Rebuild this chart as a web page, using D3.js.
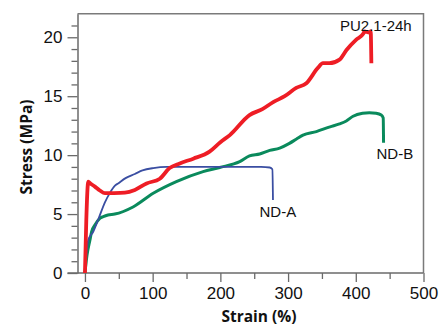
<!DOCTYPE html>
<html>
<head>
<meta charset="utf-8">
<script src="https://cdn.jsdelivr.net/npm/d3@7"></script>
<style>
  html, body { margin: 0; padding: 0; background: #fff; }
  svg { display: block; }
</style>
</head>
<body>
<svg id="chart" width="440" height="327"></svg>
<script>
// ---- data (strain %, stress MPa) ----
const redStrain   = [0, 2, 4.9, 8, 14.7, 22, 29.5, 40, 59, 73.7, 91, 110.6, 125, 140, 160, 184, 200, 214, 243, 262, 278, 295, 312, 327, 344, 351.5, 361, 376, 386, 400.7, 411, 413, 420, 422, 423];
const redStress   = [0, 4.5, 7.75, 7.6, 7.33, 7.0, 6.77, 6.78, 6.82, 7.05, 7.6, 8.0, 8.9, 9.3, 9.7, 10.3, 11.1, 11.7, 13.4, 13.9, 14.5, 15.0, 15.7, 16.1, 17.4, 17.8, 17.8, 18.1, 18.9, 19.8, 20.3, 20.5, 20.4, 20.5, 17.8];

const blueStrain  = [0, 4.9, 12.2, 20, 29.5, 36.9, 44, 49, 60, 73.7, 85, 100.8, 121, 150, 194, 230, 260, 273, 276.8, 277.7];
const blueStress  = [0, 2.8, 3.5, 4.6, 6.0, 6.8, 7.4, 7.6, 8.05, 8.4, 8.7, 8.9, 9.0, 9.0, 9.0, 9.0, 9.0, 8.95, 8.8, 6.2];

const greenStrain = [0, 3, 7.4, 9.8, 14.7, 22, 27, 34, 44, 71, 100.8, 135, 174.5, 199, 228.6, 243, 258, 272.9, 287.6, 302, 312, 322, 341.8, 362, 376, 386, 396, 410, 420, 430, 437.6, 440.5, 441];
const greenStress = [0, 1.5, 2.8, 3.5, 4.07, 4.64, 4.78, 4.92, 5.0, 5.6, 6.76, 7.75, 8.6, 8.95, 9.45, 9.93, 10.1, 10.4, 10.6, 11.0, 11.35, 11.7, 12.0, 12.4, 12.65, 12.9, 13.3, 13.55, 13.6, 13.55, 13.4, 13.15, 11.06];

const xTickValues = [0, 100, 200, 300, 400, 500];
const xMinorTicks = [50, 150, 250, 350, 450];
const yTickValues = [0, 5, 10, 15, 20];
const yMinorTicks = [1, 2, 3, 4, 6, 7, 8, 9, 11, 12, 13, 14, 16, 17, 18, 19, 21];

const seriesNames  = ["PU2.1-24h", "ND-A", "ND-B"];
const xAxisTitle = "Strain (%)";
const yAxisTitle = "Stress (MPa)";

// ---- layout ----
const svg = d3.select("#chart");
const x = d3.scaleLinear().domain([-11, 500]).range([77.5, 423.5]);
const y = d3.scaleLinear().domain([0, 22]).range([273, 13.7]);
const axisColor = "#6a6a6a";

// frame (top, right)
svg.append("path")
  .attr("d", `M${x.range()[0]},${y(22)} H${x(500)} V${y(0)}`)
  .attr("fill", "none").attr("stroke", "#7a7a7a").attr("stroke-width", 1.5);

// x axis
const gx = svg.append("g").attr("transform", `translate(0,${y(0)})`)
  .call(d3.axisBottom(x).tickValues(xTickValues).tickSize(9).tickSizeOuter(0).tickPadding(4));
const gxm = svg.append("g").attr("transform", `translate(0,${y(0)})`)
  .call(d3.axisBottom(x).tickValues(xMinorTicks).tickSize(6).tickSizeOuter(0).tickFormat(""));
gxm.select(".domain").remove();

// y axis
const gy = svg.append("g").attr("transform", `translate(${x.range()[0]},0)`)
  .call(d3.axisLeft(y).tickValues(yTickValues).tickSize(10).tickSizeOuter(0).tickPadding(5));
const gym = svg.append("g").attr("transform", `translate(${x.range()[0]},0)`)
  .call(d3.axisLeft(y).tickValues(yMinorTicks).tickSize(6).tickSizeOuter(0).tickFormat(""));
gym.select(".domain").remove();

[gx, gxm, gy, gym].forEach(g => {
  g.selectAll(".domain").attr("stroke", axisColor).attr("stroke-width", 1.5);
  g.selectAll(".tick line").attr("stroke", axisColor).attr("stroke-width", 1.3);
  g.selectAll(".tick text")
    .attr("fill", "#111")
    .style("font-family", "'Liberation Sans', Arial, sans-serif")
    .style("font-size", "17px");
});
// extend x-axis domain to meet the y-axis major tick at 0
gx.select(".domain").attr("d", `M${x.range()[0] - 10},0H${x(500)}`);
gx.selectAll(".tick text").attr("dy", "0.78em");

// axis titles
svg.append("text")
  .attr("x", 259).attr("y", 322)
  .attr("text-anchor", "middle")
  .style("font-family", "'Open Sans', sans-serif")
  .style("font-weight", "bold").style("font-size", "15.5px")
  .attr("fill", "#111")
  .text(xAxisTitle);
svg.append("text")
  .attr("transform", `translate(32,147) rotate(-90)`)
  .attr("text-anchor", "middle")
  .style("font-family", "'Open Sans', sans-serif")
  .style("font-weight", "bold").style("font-size", "15.5px")
  .attr("fill", "#111")
  .text(yAxisTitle);

// curves
const line = d3.line().x(d => x(d[0])).y(d => y(d[1])).curve(d3.curveMonotoneX);
function draw(xs, ys, color, width) {
  const pts = xs.map((v, i) => [v, ys[i]]);
  svg.append("path").datum(pts)
    .attr("d", line)
    .attr("fill", "none")
    .attr("stroke", color)
    .attr("stroke-width", width)
    .attr("stroke-linejoin", "round");
}
draw(greenStrain, greenStress, "#0a8a5c", 3);
draw(blueStrain, blueStress, "#3a4ea2", 1.8);
draw(redStrain, redStress, "#ee1d25", 3.8);

// labels
const labelStyle = sel => sel
  .style("font-family", "'Liberation Sans', Arial, sans-serif")
  .style("font-size", "15px").attr("fill", "#111");
svg.append("text").attr("x", 340).attr("y", 30.5).text(seriesNames[0]).call(labelStyle);
svg.append("text").attr("x", 259.5).attr("y", 217).text(seriesNames[1]).call(labelStyle);
svg.append("text").attr("x", 376.5).attr("y", 159).text(seriesNames[2]).call(labelStyle);
</script>
</body>
</html>
